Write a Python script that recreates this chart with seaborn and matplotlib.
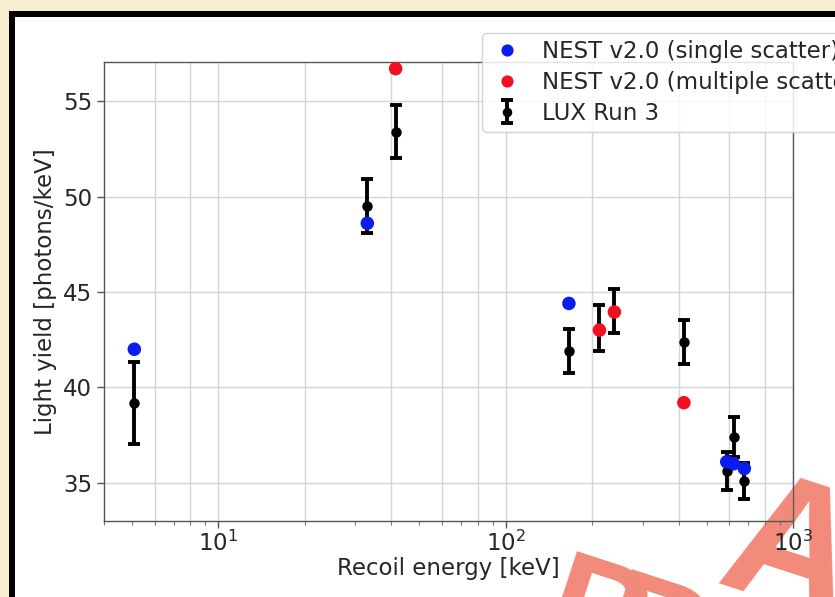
import numpy as np
import pandas as pd
import matplotlib
matplotlib.use("Agg")
import matplotlib.pyplot as plt
from matplotlib.patches import Rectangle
from matplotlib.ticker import LogLocator, NullFormatter
import seaborn as sns

# LUX Run 3 measurements: recoil energy [keV], light yield [photons/keV], 1-sigma error
lux_energy = [5.1, 33.0, 41.4, 166.0, 212.0, 239.0, 417.0, 588.0, 621.0, 677.0]
lux_yield = [39.2, 49.5, 53.4, 41.9, 43.1, 44.0, 42.4, 35.6, 37.4, 35.1]
lux_err = [2.15, 1.4, 1.4, 1.15, 1.2, 1.15, 1.15, 1.0, 1.05, 0.95]

# NEST v2.0 predictions
single_energy = [5.1, 33.0, 166.0, 588.0, 621.0, 677.0]
single_yield = [42.0, 48.6, 44.4, 36.1, 36.0, 35.75]
multi_energy = [41.4, 212.0, 239.0, 417.0]
multi_yield = [56.7, 43.0, 43.95, 39.2]

label_single = "NEST v2.0 (single scatter)"
label_multi = "NEST v2.0 (multiple scatter)"
label_lux = "LUX Run 3"

x_ticks = [10, 100, 1000]
y_ticks = [35, 40, 45, 50, 55]

nest = pd.DataFrame({
    "energy": single_energy + multi_energy,
    "yield": single_yield + multi_yield,
    "model": [label_single] * len(single_energy) + [label_multi] * len(multi_energy),
})

sns.set_style("white")
plt.rcParams["font.family"] = ["DejaVu Sans"]
FS = 16.5

W, H = 835, 597
fig = plt.figure(figsize=(W / 100, H / 100), dpi=100, facecolor="#f8eecf")

# white slide panel with a thick black border (runs off the right and bottom edges)
x0 = 12 / W
y_top = 1 - 14 / H
fig.patches.append(Rectangle((x0, -0.2), 1.2, y_top + 0.2,
                             transform=fig.transFigure, facecolor="white",
                             edgecolor="black", linewidth=4.3, zorder=0))

# diagonal watermark letters behind the plot
wm = dict(color="#f28a7a", fontweight="bold", family="Liberation Sans",
          rotation=-18, rotation_mode="anchor", ha="left", va="baseline", zorder=0.5)
fig.text(535 / W, 1 - 646 / H, "P", fontsize=105, **wm)
fig.text(590 / W, 1 - 664 / H, "R", fontsize=105, **wm)
fig.text(713 / W, 1 - 583 / H, "A", fontsize=130, **wm)

ax = fig.add_axes([104 / W, 1 - 521 / H, (793 - 104) / W, (521 - 62) / H])
ax.set_zorder(1)
ax.patch.set_alpha(0)
ax.set_xscale("log")

ax.errorbar(lux_energy, lux_yield, yerr=lux_err, fmt="o", color="black",
            markersize=6.5, elinewidth=2.8, capsize=4, capthick=2.8,
            label=label_lux, zorder=3)
sns.scatterplot(data=nest, x="energy", y="yield", hue="model",
                palette={label_single: "#0a1cf0", label_multi: "#f01020"},
                s=95, linewidth=0, ax=ax, zorder=4)

ax.set_xlim(4.0, 1000)
ax.set_ylim(33.0, 57.05)
ax.set_yticks(y_ticks)
ax.set_xticks(x_ticks)
ax.xaxis.set_minor_locator(LogLocator(base=10, subs=np.arange(2, 10), numticks=20))
ax.xaxis.set_minor_formatter(NullFormatter())

# grid: y major, x major and even minor decades
ax.grid(True, which="major", axis="both", color="#d4d4d4", linewidth=1.0, zorder=0)
even = LogLocator(base=10, subs=(2, 4, 6, 8), numticks=20).tick_values(4.0, 1000)
for v in even:
    if 4.0 < v < 1000:
        ax.axvline(v, color="#d4d4d4", linewidth=1.0, zorder=0)

for s in ax.spines.values():
    s.set_color("#555555")
    s.set_linewidth(1.0)
ax.tick_params(axis="both", which="major", labelsize=FS, length=5, width=1.0,
               color="#555555", bottom=True, left=True)
ax.tick_params(axis="x", which="major", pad=2)
ax.tick_params(axis="x", which="minor", length=3, width=0.8, color="#777777", bottom=True)

ax.set_xlabel("Recoil energy [keV]", fontsize=FS, labelpad=1)
ax.set_ylabel("Light yield [photons/keV]", fontsize=FS)

handles, labels = ax.get_legend_handles_labels()
order = [labels.index(label_single), labels.index(label_multi), labels.index(label_lux)]
leg = ax.legend([handles[i] for i in order], [labels[i] for i in order],
                loc="upper left", bbox_to_anchor=(482 / W, 1 - 33 / H),
                bbox_transform=fig.transFigure, borderaxespad=0, fontsize=FS,
                frameon=True, framealpha=0.85, edgecolor="#cccccc", fancybox=True,
                labelspacing=0.35, handlelength=1.6, handletextpad=0.7,
                borderpad=0.3, markerscale=0.9, title=None)

fig.savefig("out.png", dpi=100, facecolor=fig.get_facecolor())
